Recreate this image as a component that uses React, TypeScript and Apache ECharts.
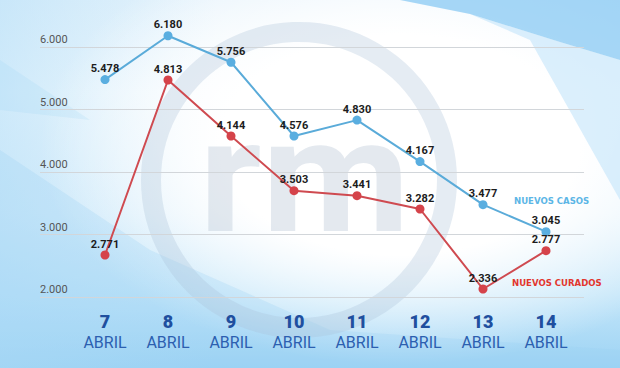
import React, { useEffect, useRef } from "react";
import * as echarts from "echarts";

const categories = ["7", "8", "9", "10", "11", "12", "13", "14"];
const monthLabel = "ABRIL";
// Nuevos casos (reported values, drawn at their values)
const casos = [5478, 6180, 5756, 4576, 4830, 4167, 3477, 3045];
// Nuevos curados: positions as drawn in the picture, and the printed values
const curadosPlotted = [2672, 5472, 4576, 3701, 3621, 3408, 2128, 2741];
const curadosReported = [2771, 4813, 4144, 3503, 3441, 3282, 2336, 2777];
const yTicks = [2000, 3000, 4000, 5000, 6000];

const fmt = (v: number) => {
  const s = String(v);
  return s.length > 3 ? s.slice(0, s.length - 3) + "." + s.slice(-3) : s;
};

export default function App() {
  const ref = useRef<HTMLDivElement>(null);
  useEffect(() => {
    if (!ref.current) return;
    const chart = echarts.init(ref.current, undefined, { renderer: "svg" });
    const font = "Roboto";
    chart.setOption({
      animation: false,
      textStyle: { fontFamily: font },
      graphic: [
        {
          type: "polygon",
          z: -20,
          shape: { points: [[400, 0], [620, 0], [620, 60], [560, 42], [470, 14]] },
          style: { fill: "rgba(130,198,242,0.7)" },
        },
        {
          type: "polygon",
          z: -21,
          shape: { points: [[470, 14], [560, 42], [620, 60], [620, 200], [530, 40]] },
          style: { fill: "rgba(190,226,249,0.55)" },
        },
        {
          type: "polygon",
          z: -21,
          shape: { points: [[0, 150], [150, 250], [330, 330], [620, 350], [620, 368], [0, 368]] },
          style: { fill: "rgba(150,208,243,0.25)" },
        },
        {
          type: "polygon",
          z: -21,
          shape: { points: [[0, 60], [90, 120], [0, 110]] },
          style: { fill: "rgba(150,208,243,0.18)" },
        },
        {
          type: "circle",
          z: -10,
          shape: { cx: 299, cy: 180, r: 148 },
          style: { fill: "none", stroke: "rgba(170,192,214,0.3)", lineWidth: 20 },
        },
        {
          type: "text",
          z: -10,
          x: 199,
          y: 176,
          scaleX: 1.07,
          style: {
            text: "rm",
            font: "bold 160px Roboto",
            fill: "rgba(180,194,212,0.36)",
            verticalAlign: "middle",
            align: "left",
          },
        },
        {
          type: "text",
          x: 514,
          y: 200,
          style: {
            text: "NUEVOS CASOS",
            font: "bold 9.5px 'DejaVu Sans Condensed'",
            fill: "#5cb6e6",
            verticalAlign: "middle",
          },
        },
        {
          type: "text",
          x: 512,
          y: 282,
          style: {
            text: "NUEVOS CURADOS",
            font: "bold 9.5px 'DejaVu Sans Condensed'",
            fill: "#e2362e",
            verticalAlign: "middle",
          },
        },
      ],
      grid: [
        { left: 40, right: 36, top: 47, bottom: 71 },
        { left: 105, right: 74, top: 47, bottom: 71 },
      ],
      xAxis: [
        { type: "value", gridIndex: 0, show: false, min: 0, max: 1 },
        {
          type: "category",
          gridIndex: 1,
          data: categories,
          boundaryGap: false,
          axisLine: { show: false },
          axisTick: { show: false },
          axisLabel: {
            interval: 0,
            margin: 14,
            formatter: (v: string) => `{n|${v}}\n{a|${monthLabel}}`,
            rich: {
              n: { fontFamily: font, fontWeight: 900, fontSize: 18, color: "#1f4f9f", lineHeight: 21 },
              a: { fontFamily: font, fontSize: 16, color: "#2c5fb0", lineHeight: 20 },
            },
          },
        },
      ],
      yAxis: [
        {
          type: "value",
          gridIndex: 0,
          min: yTicks[0],
          max: yTicks[yTicks.length - 1],
          interval: 1000,
          axisLine: { show: false },
          axisTick: { show: false },
          splitLine: { lineStyle: { color: "#d2d6da", width: 1 } },
          axisLabel: {
            inside: true,
            margin: 0,
            verticalAlign: "bottom",
            padding: [0, 0, 2, 0],
            fontSize: 11,
            color: "#555",
            fontFamily: font,
            formatter: (v: number) => fmt(v),
          },
        },
        {
          type: "value",
          gridIndex: 1,
          min: yTicks[0],
          max: yTicks[yTicks.length - 1],
          show: false,
          splitLine: { show: false },
        },
      ],
      series: [
        {
          type: "line",
          xAxisIndex: 1,
          yAxisIndex: 1,
          data: curadosPlotted,
          clip: false,
          symbol: "circle",
          symbolSize: 9,
          lineStyle: { color: "#cf4a50", width: 2 },
          itemStyle: { color: "#d5434a" },
          label: {
            show: true,
            position: "top",
            distance: 1,
            fontFamily: font,
            fontWeight: "bold",
            fontSize: 11,
            color: "#1c1c1c",
            formatter: (p: any) => fmt(curadosReported[p.dataIndex]),
          },
        },
        {
          type: "line",
          xAxisIndex: 1,
          yAxisIndex: 1,
          data: casos,
          clip: false,
          symbol: "circle",
          symbolSize: 9,
          lineStyle: { color: "#5aabd9", width: 2 },
          itemStyle: { color: "#5aaee0" },
          label: {
            show: true,
            position: "top",
            distance: 1,
            fontFamily: font,
            fontWeight: "bold",
            fontSize: 11,
            color: "#1c1c1c",
            formatter: (p: any) => fmt(p.value),
          },
        },
      ],
    });
    return () => chart.dispose();
  }, []);
  return (
    <div
      ref={ref}
      style={{
        position: "fixed",
        left: 0,
        top: 0,
        width: 620,
        height: 368,
        background:
          "radial-gradient(ellipse 360px 220px at 400px 145px, #ffffff 0%, #ffffff 50%, rgba(255,255,255,0) 100%), linear-gradient(to right, rgba(175,220,247,0.55) 0%, rgba(255,255,255,0) 35%), linear-gradient(to bottom, #e8f4fc 0%, #f6fbfe 25%, #e2f2fc 58%, #c2e5f9 80%, #9dd3f4 100%)",
      }}
    />
  );
}
